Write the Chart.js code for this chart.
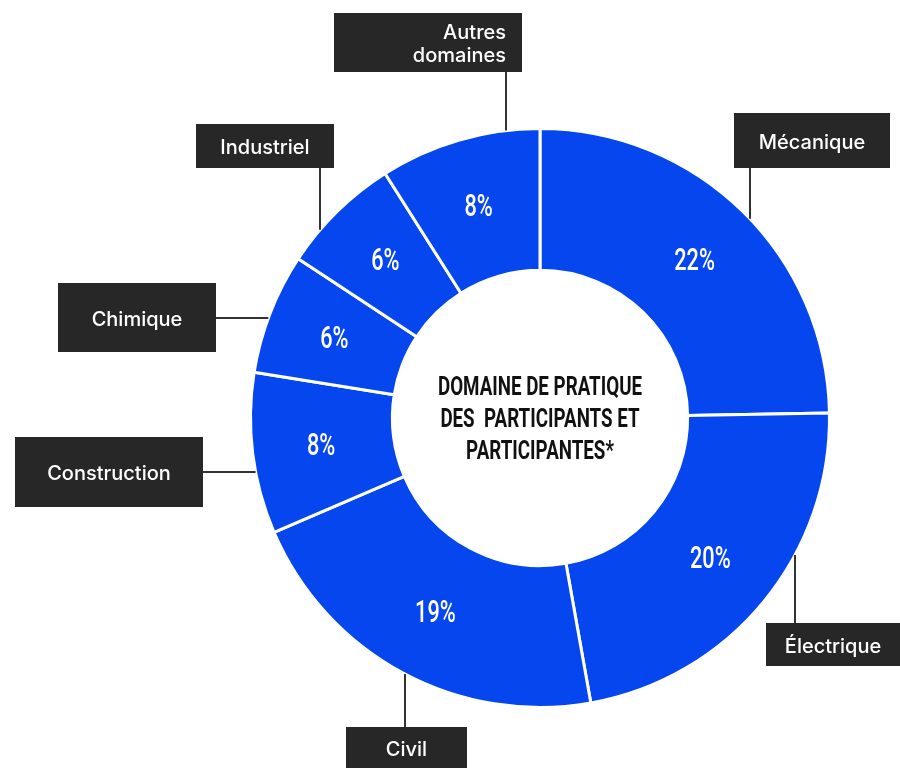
<!DOCTYPE html>
<html>
<head>
<meta charset="utf-8">
<script src="https://cdn.jsdelivr.net/npm/chart.js@4.4.0/dist/chart.umd.min.js"></script>
<style>
  html, body { margin: 0; padding: 0; background: #fff; }
  #wrap { width: 900px; height: 768px; }
</style>
</head>
<body>
<div id="wrap"><canvas id="chart" width="900" height="768"></canvas></div>
<script>
// ---- Data ----
const categories = ["Mécanique", "Électrique", "Civil", "Construction", "Chimique", "Industriel", ["Autres", "domaines"]];
const shares = [22, 20, 19, 8, 6, 6, 8];
const centerTitle = ["DOMAINE DE PRATIQUE", "DES  PARTICIPANTS ET", "PARTICIPANTES*"];

// ---- Label box layout (pixels), one per slice ----
const labelBoxes = [
  { x: 734, y: 113, w: 156, h: 55, lineX: 750 },
  { x: 766, y: 623, w: 134, h: 43, lineX: 795 },
  { x: 346, y: 727, w: 121, h: 41, lineX: 405 },
  { x: 15,  y: 437, w: 188, h: 70, lineY: 472 },
  { x: 58,  y: 283, w: 158, h: 69, lineY: 318 },
  { x: 196, y: 124, w: 138, h: 44, lineX: 320 },
  { x: 334, y: 13,  w: 188, h: 59, lineX: 506, align: "right" }
];

const BLUE = "#0646ee";
const BOX = "#272727";

function condensedText(ctx, text, x, y, size, weight, sx) {
  ctx.save();
  ctx.translate(x, y);
  ctx.scale(sx, 1);
  ctx.font = weight + " " + size + "px Roboto";
  ctx.textAlign = "center";
  ctx.textBaseline = "middle";
  ctx.fillText(text, 0, 0);
  ctx.restore();
}

const overlay = {
  id: "overlay",
  afterDraw(chart) {
    const ctx = chart.ctx;
    const arcs = chart.getDatasetMeta(0).data;
    arcs.forEach((arc, i) => {
      const p = arc.getProps(["x", "y", "startAngle", "endAngle", "outerRadius", "innerRadius"], true);
      const mid = (p.startAngle + p.endAngle) / 2;
      const r = (p.outerRadius + p.innerRadius) / 2 + 2;
      ctx.fillStyle = "#fff";
      condensedText(ctx, shares[i] + "%", p.x + Math.cos(mid) * r, p.y + Math.sin(mid) * r + 2, 31, 500, 0.7);

      // leader line
      const b = labelBoxes[i];
      const R = p.outerRadius;
      ctx.save();
      ctx.strokeStyle = "#333";
      ctx.lineWidth = 2;
      ctx.beginPath();
      if (b.lineX !== undefined) {
        const dx = b.lineX - p.x;
        const h = Math.sqrt(Math.max(0, R * R - dx * dx));
        if (b.y < p.y) { ctx.moveTo(b.lineX, b.y + b.h); ctx.lineTo(b.lineX, p.y - h); }
        else { ctx.moveTo(b.lineX, b.y); ctx.lineTo(b.lineX, p.y + h); }
      } else {
        const dy = b.lineY - p.y;
        const w = Math.sqrt(Math.max(0, R * R - dy * dy));
        if (b.x < p.x) { ctx.moveTo(b.x + b.w, b.lineY); ctx.lineTo(p.x - w, b.lineY); }
        else { ctx.moveTo(b.x, b.lineY); ctx.lineTo(p.x + w, b.lineY); }
      }
      ctx.stroke();

      // box + text
      ctx.fillStyle = BOX;
      ctx.fillRect(b.x, b.y, b.w, b.h);
      ctx.fillStyle = "#fff";
      ctx.font = "500 20px Inter";
      ctx.textBaseline = "middle";
      const lines = Array.isArray(categories[i]) ? categories[i] : [categories[i]];
      const lh = 23;
      lines.forEach((t, k) => {
        const ty = b.y + b.h / 2 + (k - (lines.length - 1) / 2) * lh + 2;
        if (b.align === "right") { ctx.textAlign = "right"; ctx.fillText(t, b.lineX, ty); }
        else { ctx.textAlign = "center"; ctx.fillText(t, b.x + b.w / 2, ty); }
      });
      ctx.restore();
    });

    // centre title
    const c = arcs[0];
    ctx.fillStyle = "#111";
    centerTitle.forEach((t, k) => {
      condensedText(ctx, t, c.x, c.y - 29 + k * 32, 25, 700, 0.75);
    });
  }
};

new Chart(document.getElementById("chart"), {
  type: "doughnut",
  data: {
    labels: categories,
    datasets: [{
      data: shares,
      backgroundColor: BLUE,
      borderColor: "#fff",
      borderWidth: 3
    }]
  },
  options: {
    responsive: false,
    animation: false,
    cutout: "51%",
    layout: { padding: { left: 249, right: 69, top: 126, bottom: 58 } },
    plugins: { legend: { display: false }, tooltip: { enabled: false } }
  },
  plugins: [overlay]
});
</script>
</body>
</html>
